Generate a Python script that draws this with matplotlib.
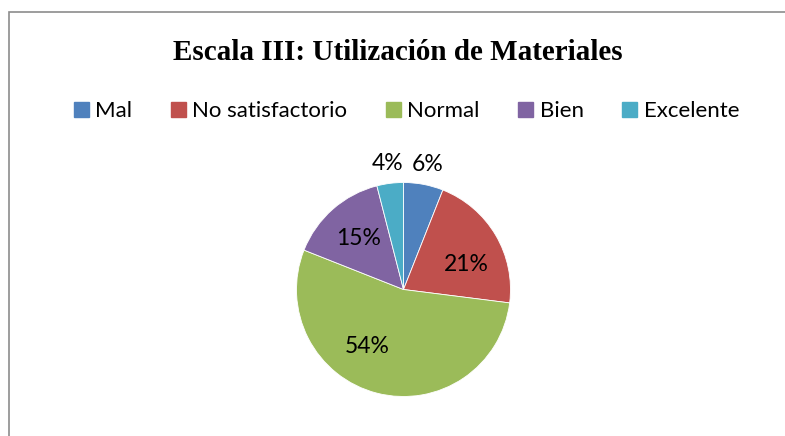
import numpy as np
import matplotlib
matplotlib.use("Agg")
import matplotlib.pyplot as plt
from matplotlib.lines import Line2D
from matplotlib.patches import Rectangle

TITLE = "Escala III: Utilización de Materiales"
CATEGORIES = ["Mal", "No satisfactorio", "Normal", "Bien", "Excelente"]
PERCENTS = [6, 21, 54, 15, 4]
COLORS = ["#4F81BD", "#C0504D", "#9BBB59", "#8064A2", "#4BACC6"]
# best-fit style nudge of inside labels (degrees, clockwise)
LABEL_SHIFT = [0, -9, -18, 0, 0]

W, H = 785, 436
fig = plt.figure(figsize=(W / 100, H / 100), dpi=100)

# chart frame (runs off right and bottom edges)
fig.patches.append(Rectangle((9 / W, -0.1), 1.2, 1.1 - 12 / H, transform=fig.transFigure,
                             fill=False, edgecolor="#8c8c8c", linewidth=1.2))

fig.text(398 / W, 1 - 52 / H, TITLE, ha="center", va="center", fontsize=21,
         fontweight="bold", family="Liberation Serif")

handles = [Line2D([], [], marker="s", linestyle="none", markersize=10.8,
                  markerfacecolor=c, markeredgecolor=c) for c in COLORS]
fig.legend(handles, CATEGORIES, loc="center", bbox_to_anchor=(406 / W, 1 - 111 / H),
           ncol=5, frameon=False, handlelength=0.7, handletextpad=0.3,
           columnspacing=1.7, prop={"family": "Lato", "size": 16})

r_px = 107
cx, cy = 403.5, 289.5
ax = fig.add_axes([(cx - r_px) / W, 1 - (cy + r_px) / H, 2 * r_px / W, 2 * r_px / H])
wedges, _ = ax.pie(PERCENTS, colors=COLORS, startangle=90, counterclock=False,
                   wedgeprops={"edgecolor": "white", "linewidth": 0.6})
ax.set_xlim(-1, 1)
ax.set_ylim(-1, 1)
ax.set_aspect("equal")
ax.axis("off")

for w, p, sh in zip(wedges, PERCENTS, LABEL_SHIFT):
    mid = np.deg2rad((w.theta1 + w.theta2) / 2 + sh)
    dist = 1.19 if p < 10 else 0.63
    ax.text(dist * np.cos(mid), dist * np.sin(mid), f"{p}%", ha="center", va="center",
            fontsize=16.5, family="Lato", color="black")

fig.savefig("out.png", dpi=100)
